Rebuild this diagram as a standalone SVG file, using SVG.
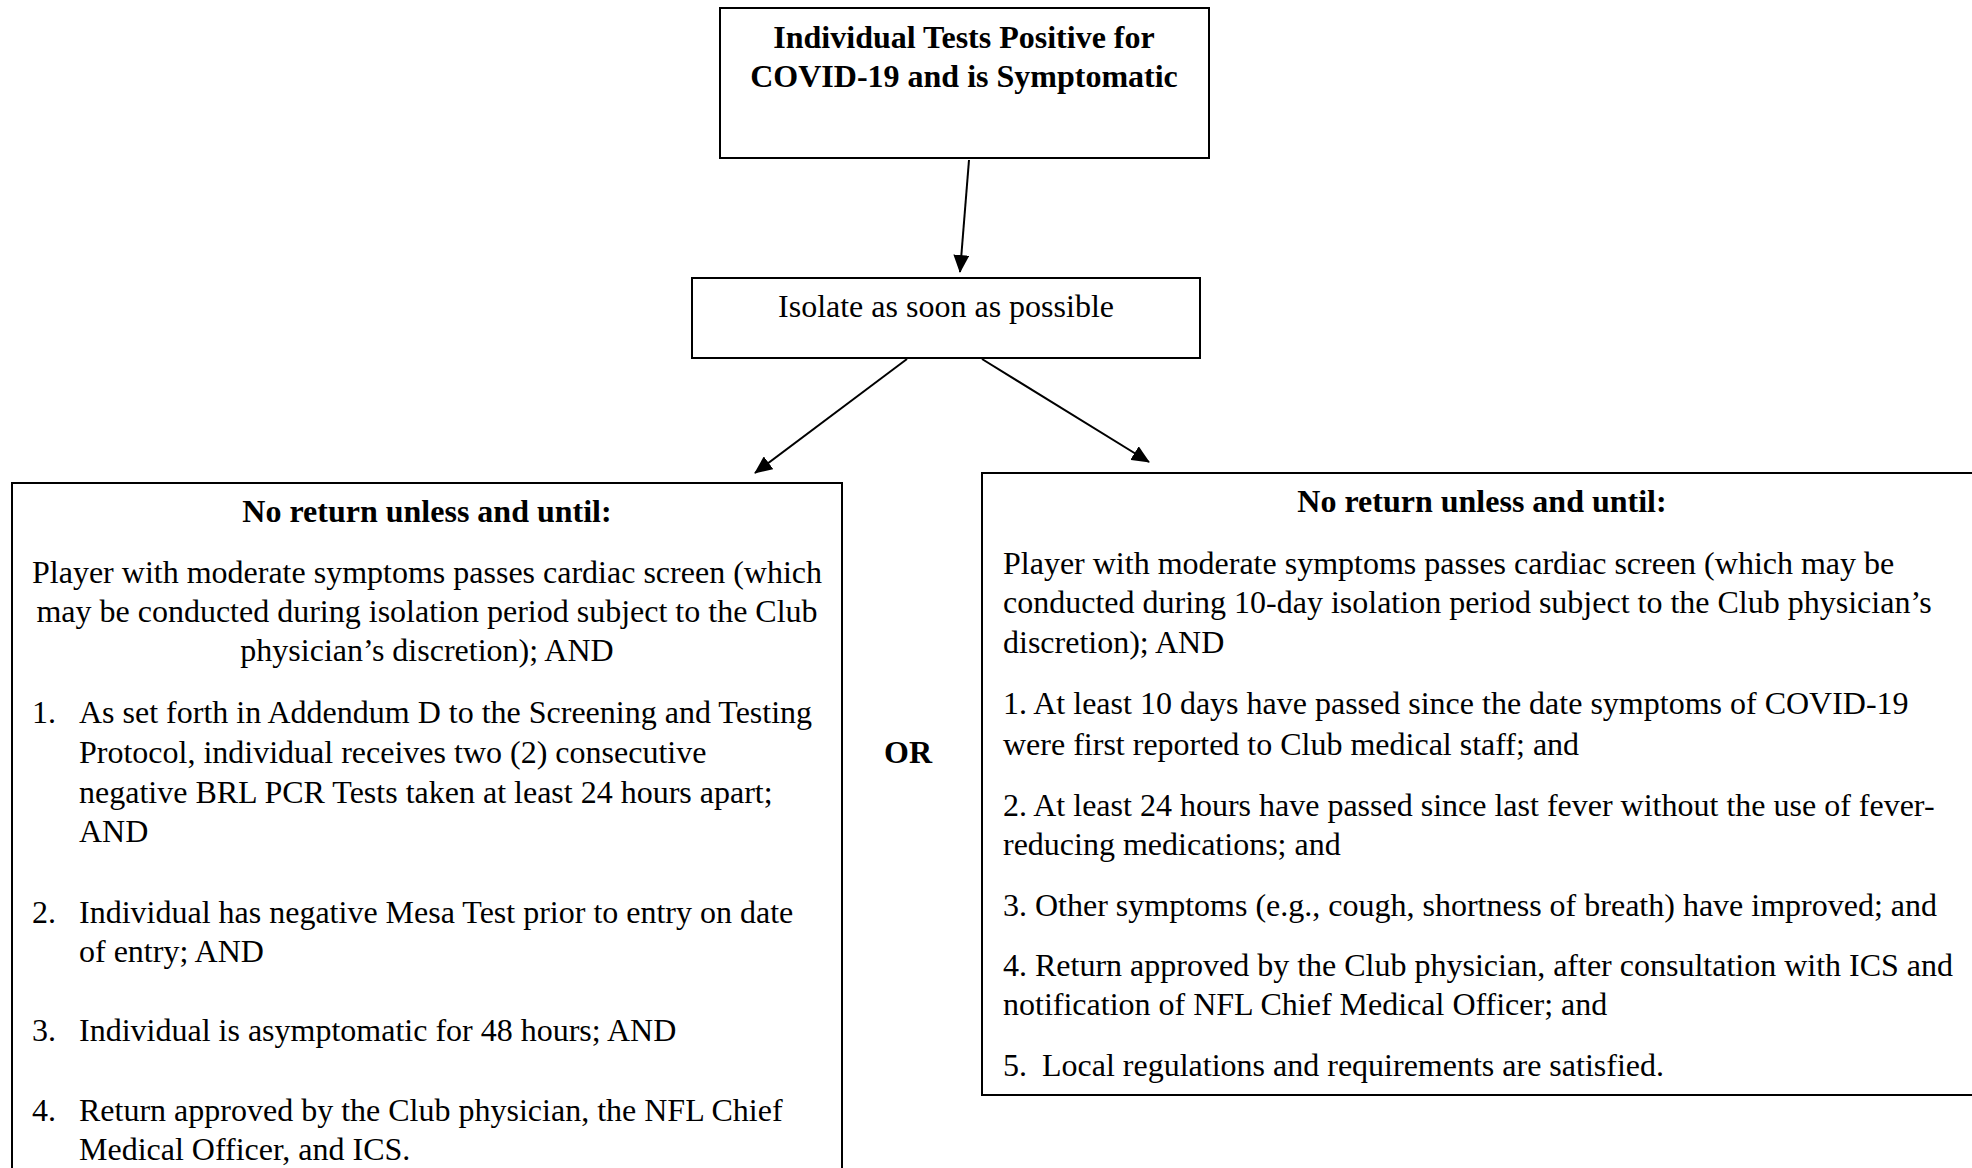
<svg xmlns="http://www.w3.org/2000/svg" width="1972" height="1168" viewBox="0 0 1972 1168">
<style>
  text { font-family: "Liberation Serif", "Times New Roman", serif; font-size: 32px; fill: #000; }
  .b { font-weight: bold; }
  .c { text-anchor: middle; }
  .box { fill: #fff; stroke: #000; stroke-width: 2; }
  .conn { stroke: #000; stroke-width: 2; fill: none; marker-end: url(#ah); }
</style>
<defs>
  <marker id="ah" markerUnits="userSpaceOnUse" markerWidth="18" markerHeight="16" refX="17" refY="8" orient="auto">
    <path d="M0,0 L18,8 L0,16 Z" fill="#000"/>
  </marker>
</defs>
<rect width="1972" height="1168" fill="#fff"/>

<g id="connectors">
  <line class="conn" x1="969" y1="160" x2="960" y2="272"/>
  <line class="conn" x1="907" y1="359" x2="755" y2="473"/>
  <line class="conn" x1="982" y1="359" x2="1149" y2="462"/>
</g>

<g id="node-positive">
  <rect class="box" x="720" y="8" width="489" height="150"/>
  <text class="b c" x="964" y="48">Individual Tests Positive for</text>
  <text class="b c" x="964" y="87">COVID-19 and is Symptomatic</text>
</g>

<g id="node-isolate">
  <rect class="box" x="692" y="278" width="508" height="80"/>
  <text class="c" x="946" y="317">Isolate as soon as possible</text>
</g>

<g id="node-left">
  <rect class="box" x="12" y="483" width="830" height="720"/>
  <text class="b c" x="427" y="522">No return unless and until:</text>
  <text class="c" x="427" y="583">Player with moderate symptoms passes cardiac screen (which</text>
  <text class="c" x="427" y="622">may be conducted during isolation period subject to the Club</text>
  <text class="c" x="427" y="661">physician’s discretion); AND</text>
  <text x="32" y="723">1.</text>
  <text x="79" y="723">As set forth in Addendum D to the Screening and Testing</text>
  <text x="79" y="763">Protocol, individual receives two (2) consecutive</text>
  <text x="79" y="803">negative BRL PCR Tests taken at least 24 hours apart;</text>
  <text x="79" y="842">AND</text>
  <text x="32" y="923">2.</text>
  <text x="79" y="923">Individual has negative Mesa Test prior to entry on date</text>
  <text x="79" y="962">of entry; AND</text>
  <text x="32" y="1041">3.</text>
  <text x="79" y="1041">Individual is asymptomatic for 48 hours; AND</text>
  <text x="32" y="1121">4.</text>
  <text x="79" y="1121">Return approved by the Club physician, the NFL Chief</text>
  <text x="79" y="1160">Medical Officer, and ICS.</text>
</g>

<g id="node-or">
  <text class="b c" x="908" y="763">OR</text>
</g>

<g id="node-right">
  <rect class="box" x="982" y="473" width="1010" height="622"/>
  <text class="b c" x="1482" y="512">No return unless and until:</text>
  <text x="1003" y="574">Player with moderate symptoms passes cardiac screen (which may be</text>
  <text x="1003" y="613">conducted during 10-day isolation period subject to the Club physician’s</text>
  <text x="1003" y="653">discretion); AND</text>
  <text x="1003" y="714">1. At least 10 days have passed since the date symptoms of COVID-19</text>
  <text x="1003" y="755">were first reported to Club medical staff; and</text>
  <text x="1003" y="816">2. At least 24 hours have passed since last fever without the use of fever-</text>
  <text x="1003" y="855">reducing medications; and</text>
  <text x="1003" y="916">3. Other symptoms (e.g., cough, shortness of breath) have improved; and</text>
  <text x="1003" y="976">4. Return approved by the Club physician, after consultation with ICS and</text>
  <text x="1003" y="1015">notification of NFL Chief Medical Officer; and</text>
  <text x="1003" y="1076">5.</text>
  <text x="1042" y="1076">Local regulations and requirements are satisfied.</text>
</g>
</svg>
